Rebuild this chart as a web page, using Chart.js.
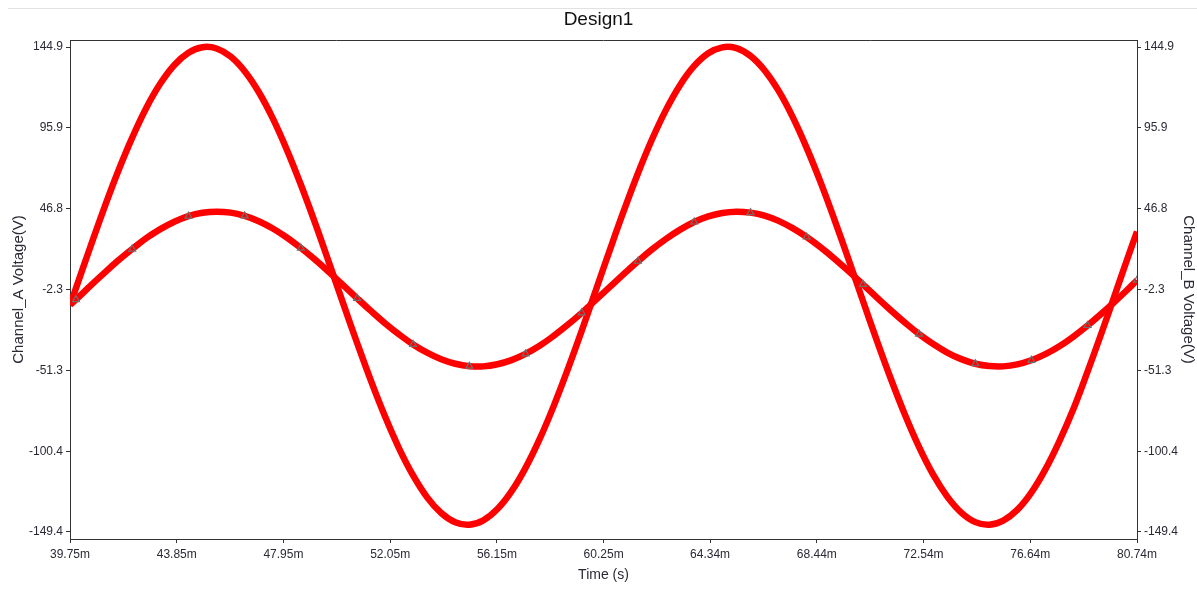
<!DOCTYPE html>
<html>
<head>
<meta charset="utf-8">
<title>Design1</title>
<script src="https://cdn.jsdelivr.net/npm/chart.js@4/dist/chart.umd.min.js"></script>
<style>
    html, body { margin: 0; padding: 0; background: #fff; }
    #wrap { width: 1197px; height: 608px; }
</style>
</head>
<body>
<div id="wrap"><canvas id="chart" width="1197" height="608"></canvas></div>
<script>
// Time samples (ms)
const timeMs = [39.75, 39.98, 40.52, 41.06, 41.60, 42.14, 42.68, 43.22, 43.76, 44.30,
    44.84, 45.38, 45.92, 46.46, 47.00, 47.54, 48.08, 48.62, 49.16, 49.70,
    50.24, 50.78, 51.32, 51.85, 52.39, 52.93, 53.47, 54.01, 54.55, 55.09,
    55.63, 56.17, 56.71, 57.25, 57.79, 58.33, 58.87, 59.41, 59.95, 60.49,
    61.03, 61.57, 62.11, 62.65, 63.19, 63.73, 64.27, 64.81, 65.35, 65.89,
    66.43, 66.97, 67.51, 68.05, 68.59, 69.13, 69.67, 70.21, 70.75, 71.29,
    71.83, 72.37, 72.91, 73.45, 73.99, 74.53, 75.07, 75.60, 76.14, 76.68,
    77.22, 77.76, 78.30, 78.84, 79.38, 79.92, 80.33, 80.74];

// Channel A (large wave), volts
const channelA = [-11.8, -1.4, 23.1, 47.0, 69.5, 89.9, 107.9, 122.7, 134.0, 141.4,
    144.8, 144.0, 139.1, 130.2, 117.6, 101.6, 82.6, 61.3, 38.3, 14.1,
    -10.5, -34.7, -58.0, -79.2, -98.6, -115.1, -128.4, -137.9, -143.5, -145.0,
    -142.3, -135.5, -124.8, -110.5, -93.1, -73.0, -50.8, -27.2, -2.7, 21.8,
    45.7, 68.3, 88.9, 106.9, 121.9, 133.4, 141.1, 144.7, 144.2, 139.5,
    130.8, 118.4, 102.5, 83.7, 62.6, 39.6, 15.5, -9.1, -33.4, -56.7,
    -78.4, -97.9, -114.6, -127.9, -137.6, -143.4, -145.0, -142.5, -136.0, -125.5,
    -111.4, -94.2, -74.6, -52.1, -28.5, -4.1, 14.6, 32.9];

// Channel B (small wave), volts
const channelB = [-11.5, -8.4, -0.2, 7.7, 15.3, 22.3, 28.9, 34.4, 38.9, 42.3,
    44.3, 45.0, 44.4, 42.4, 39.2, 34.8, 29.3, 22.9, 15.9, 8.3,
    0.4, -7.6, -15.4, -22.7, -29.5, -35.6, -40.6, -44.6, -47.3, -48.8,
    -48.9, -47.6, -45.1, -41.3, -36.4, -30.4, -23.7, -16.4, -8.6, -0.7,
    7.2, 14.9, 22.1, 28.5, 34.1, 38.7, 42.1, 44.2, 45.0, 44.4,
    42.6, 39.4, 35.0, 29.6, 23.3, 16.3, 8.7, 0.8, -7.2, -15.0,
    -22.4, -29.3, -35.3, -40.5, -44.5, -47.3, -48.7, -48.9, -47.7, -45.2,
    -41.5, -36.7, -30.8, -24.1, -16.8, -9.1, -3.0, 3.4];

const xTicks = [39.75, 43.85, 47.95, 52.05, 56.15, 60.25, 64.34, 68.44, 72.54, 76.64, 80.74];
const xTickLabels = ['39.75m', '43.85m', '47.95m', '52.05m', '56.15m', '60.25m',
    '64.34m', '68.44m', '72.54m', '76.64m', '80.74m'];
const yTicks = [-149.4, -100.4, -51.3, -2.3, 46.8, 95.9, 144.9];

const FONT = "'Liberation Sans', Arial, sans-serif";
const TXT = '#2a2a35';

const pointsOf = ys => ys.map((y, i) => ({ x: timeMs[i], y: y }));

// frame round the plot + faint line at the top of the window
const framePlugin = {
    id: 'frame',
    beforeDraw(chart) {
        const ctx = chart.ctx;
        ctx.save();
        ctx.fillStyle = '#fff';
        ctx.fillRect(0, 0, chart.width, chart.height);
        ctx.strokeStyle = '#e2e2e2';
        ctx.lineWidth = 1;
        ctx.beginPath();
        ctx.moveTo(8, 8.5);
        ctx.lineTo(chart.width, 8.5);
        ctx.stroke();
        ctx.restore();
    },
    afterDraw(chart) {
        const a = chart.chartArea;
        const ctx = chart.ctx;
        ctx.save();
        ctx.strokeStyle = '#333';
        ctx.lineWidth = 1;
        ctx.beginPath();
        ctx.moveTo(a.left, a.top + 0.5);
        ctx.lineTo(a.right, a.top + 0.5);
        ctx.stroke();
        ctx.restore();
    }
};

function yAxis(position, title, titlePad, width) {
    return {
        type: 'linear',
        position: position,
        min: -153.65,
        max: 149.15,
        afterBuildTicks: s => { s.ticks = yTicks.map(v => ({ value: v })); },
        afterFit: s => { s.width = width; },
        ticks: {
            autoSkip: false,
            padding: 3,
            color: TXT,
            font: { family: FONT, size: 12 },
            callback: v => v.toFixed(1)
        },
        grid: { drawOnChartArea: false, drawTicks: true, tickLength: 4, color: '#333' },
        border: { display: true, color: '#333' },
        title: {
            display: true,
            text: title,
            color: TXT,
            font: { family: FONT, size: 15 },
            padding: { top: titlePad, bottom: 0 }
        }
    };
}

new Chart(document.getElementById('chart'), {
    type: 'line',
    data: {
        datasets: [
            {
                label: 'Channel_B',
                data: pointsOf(channelB),
                yAxisID: 'y2',
                borderColor: '#ff0000',
                borderWidth: 6.5,
                tension: 0.4,
                pointStyle: 'triangle',
                pointRadius: c => (c.dataIndex % 4 === 1 ? 4 : 0),
                pointBorderColor: '#707070',
                pointBackgroundColor: 'rgba(0,0,0,0)',
                pointBorderWidth: 1.2,
                clip: 0
            },
            {
                label: 'Channel_A',
                data: pointsOf(channelA),
                yAxisID: 'y',
                borderColor: '#ff0000',
                borderWidth: 6.5,
                tension: 0.4,
                pointRadius: 0,
                clip: 0
            }
        ]
    },
    options: {
        responsive: false,
        animation: false,
        layout: { padding: 0 },
        plugins: {
            legend: { display: false },
            tooltip: { enabled: false },
            title: {
                display: true,
                text: 'Design1',
                color: '#111',
                font: { family: FONT, size: 19, weight: 'normal' },
                padding: { top: 8.6, bottom: 8.6 }
            }
        },
        scales: {
            x: {
                type: 'linear',
                min: 39.75,
                max: 80.74,
                afterBuildTicks: s => { s.ticks = xTicks.map(v => ({ value: v })); },
                afterFit: s => { s.height = 69; },
                ticks: {
                    autoSkip: false,
                    maxRotation: 0,
                    padding: 4,
                    color: TXT,
                    font: { family: FONT, size: 12 },
                    callback: (v, i) => xTickLabels[i]
                },
                grid: { drawOnChartArea: false, drawTicks: true, tickLength: 4, color: '#333' },
                border: { display: true, color: '#333' },
                title: {
                    display: true,
                    text: 'Time (s)',
                    color: TXT,
                    font: { family: FONT, size: 14 },
                    padding: { top: 0, bottom: 24.6 }
                }
            },
            y: yAxis('left', 'Channel_A Voltage(V)', 9.5, 70),
            y2: yAxis('right', 'Channel_B Voltage(V)', 0.2, 60)
        }
    },
    plugins: [framePlugin]
});
</script>
</body>
</html>
